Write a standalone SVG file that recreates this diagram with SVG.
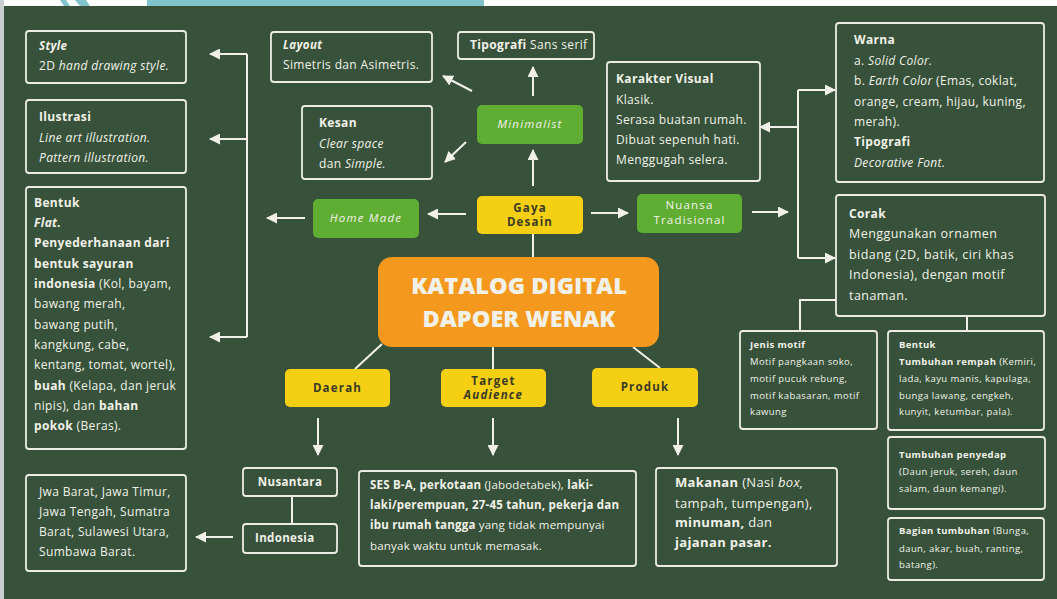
<svg xmlns="http://www.w3.org/2000/svg" width="1057" height="599" viewBox="0 0 1057 599">
<defs>
<style>
.t{fill:#f1f1e9;font-family:"Open Sans","Noto Sans",sans-serif;font-size:12px;letter-spacing:0.35px}
.b{font-weight:700}
.i{font-style:italic}
.box{fill:none;stroke:#ecece4;stroke-width:1.8}
.yel{fill:#f4cf14}
.grn{fill:#60ad33}
.yt{fill:#3b3a22;font-family:"Open Sans","Noto Sans",sans-serif;font-size:11.5px;font-weight:700;letter-spacing:1.2px}
.gt{fill:#f1f1e9;font-family:"Open Sans","Noto Sans",sans-serif;font-size:11.5px;letter-spacing:1.2px}
.ln{stroke:#f1f1e9;stroke-width:2;fill:none}
.ar{marker-end:url(#ah)}
.s9{font-size:9.5px;letter-spacing:0.4px}
.s11{font-size:11.5px}
.s115{font-size:11.5px;letter-spacing:0.2px}
.s125{font-size:12.5px;letter-spacing:0.45px}
.s13{font-size:13px}
.big{font-size:23.5px;letter-spacing:0px;font-weight:800}
</style>
<marker id="ah" markerUnits="userSpaceOnUse" markerWidth="11" markerHeight="11" refX="10" refY="5.5" orient="auto" viewBox="0 0 11 11">
<path d="M0,0 L11,5.5 L0,11 z" fill="#f1f1e9"/>
</marker>
</defs>
<rect x="0" y="0" width="1057" height="599" fill="#37513a"/>
<rect x="0" y="0" width="1057" height="6" fill="#ffffff"/>
<rect x="147" y="0" width="337" height="6" fill="#80c3cb"/>
<polygon points="60,0 66,0 70,6 64,6" fill="#80c3cb"/>
<polygon points="75,0 86,0 90,6 80,6" fill="#80c3cb"/>
<rect x="0" y="0" width="4" height="599" fill="#c9ced2"/>

<g id="connectors">
<path class="ln" d="M247,54 V337"/>
<path class="ln ar" d="M247,54 H210"/>
<path class="ln ar" d="M247,139 H210"/>
<path class="ln ar" d="M247,337 H210"/>
<path class="ln ar" d="M466,214 H428"/>
<path class="ln ar" d="M305,218 H267"/>
<path class="ln ar" d="M533,186 V150"/>
<path class="ln ar" d="M533,96 V67"/>
<path class="ln ar" d="M472,91 L443,76"/>
<path class="ln ar" d="M466,142 L445,162"/>
<path class="ln ar" d="M591,213 H628"/>
<path class="ln ar" d="M752,212 H788"/>
<path class="ln" d="M798,90 V258"/>
<path class="ln ar" d="M798,90 H835"/>
<path class="ln ar" d="M798,258 H835"/>
<path class="ln ar" d="M798,127 H760"/>
<path class="ln" d="M533,234 V257"/>
<path class="ln" d="M382,344 L355,369"/>
<path class="ln" d="M493,347 V369"/>
<path class="ln" d="M633,347 L660,368"/>
<path class="ln ar" d="M318,418 V455"/>
<path class="ln ar" d="M493,418 V455"/>
<path class="ln ar" d="M678,418 V455"/>
<path class="ln" d="M292,496 V524"/>
<path class="ln ar" d="M233,537 H196"/>
<path class="ln" d="M836,300 H800 V331"/>
<path class="ln" d="M967,316 V331"/>
</g>

<g id="style">
<rect class="box" x="26" y="31" width="160" height="52" rx="3"/>
<text class="t b i s11" x="39" y="50">Style</text>
<text class="t" x="39" y="70">2D <tspan class="i">hand drawing style.</tspan></text>
</g>
<g id="ilustrasi">
<rect class="box" x="26" y="100" width="160" height="73" rx="3"/>
<text class="t b" x="39" y="121">Ilustrasi</text>
<text class="t i" x="39" y="142">Line art illustration.</text>
<text class="t i" x="39" y="162">Pattern illustration.</text>
</g>
<g id="bentuk-left">
<rect class="box" x="26" y="187" width="160" height="262" rx="3"/>
<text class="t b" x="34" y="207">Bentuk</text>
<text class="t b i" x="34" y="227">Flat.</text>
<text class="t b" x="34" y="247">Penyederhanaan dari</text>
<text class="t b" x="34" y="268">bentuk sayuran</text>
<text class="t" x="34" y="288"><tspan class="b">indonesia</tspan> (Kol, bayam,</text>
<text class="t" x="34" y="308">bawang merah,</text>
<text class="t" x="34" y="329">bawang putih,</text>
<text class="t" x="34" y="349">kangkung, cabe,</text>
<text class="t" x="34" y="369">kentang, tomat, wortel),</text>
<text class="t" x="34" y="390"><tspan class="b">buah</tspan> (Kelapa, dan jeruk</text>
<text class="t" x="34" y="410">nipis), dan <tspan class="b">bahan</tspan></text>
<text class="t" x="34" y="430"><tspan class="b">pokok</tspan> (Beras).</text>
</g>
<g id="layout">
<rect class="box" x="271" y="32" width="161" height="50" rx="3"/>
<text class="t b i s11" x="283" y="49">Layout</text>
<text class="t" x="283" y="69">Simetris dan Asimetris.</text>
</g>
<g id="tipografi">
<rect class="box" x="458" y="32" width="136" height="27" rx="3"/>
<text class="t" x="470" y="49"><tspan class="b">Tipografi</tspan> Sans serif</text>
</g>
<g id="kesan">
<rect class="box" x="302" y="106" width="130" height="73" rx="3"/>
<text class="t b" x="319" y="127">Kesan</text>
<text class="t i" x="319" y="148">Clear space</text>
<text class="t" x="319" y="168">dan <tspan class="i">Simple.</tspan></text>
</g>
<g id="minimalist">
<rect class="grn" x="477" y="105" width="106" height="39" rx="5"/>
<text class="gt i" x="530" y="128" text-anchor="middle">Minimalist</text>
</g>
<g id="home-made">
<rect class="grn" x="313" y="199" width="106" height="39" rx="5"/>
<text class="gt i" x="366" y="222" text-anchor="middle">Home Made</text>
</g>
<g id="gaya-desain">
<rect class="yel" x="477" y="196" width="106" height="38" rx="5"/>
<text class="yt" x="530" y="212" text-anchor="middle">Gaya</text>
<text class="yt" x="530" y="226" text-anchor="middle">Desain</text>
</g>
<g id="nuansa">
<rect class="grn" x="637" y="194" width="105" height="39" rx="5"/>
<text class="gt" x="689.5" y="209" text-anchor="middle">Nuansa</text>
<text class="gt" x="689.5" y="224" text-anchor="middle">Tradisional</text>
</g>
<g id="karakter">
<rect class="box" x="607" y="62" width="153" height="119" rx="3"/>
<text class="t b" x="616" y="83">Karakter Visual</text>
<text class="t" x="616" y="104">Klasik.</text>
<text class="t" x="616" y="124">Serasa buatan rumah.</text>
<text class="t" x="616" y="144">Dibuat sepenuh hati.</text>
<text class="t" x="616" y="164">Menggugah selera.</text>
</g>
<g id="warna">
<rect class="box" x="836" y="23" width="208" height="159" rx="3"/>
<text class="t b" x="854" y="44">Warna</text>
<text class="t" x="854" y="65">a. <tspan class="i">Solid Color.</tspan></text>
<text class="t" x="854" y="85">b. <tspan class="i">Earth Color</tspan> (Emas, coklat,</text>
<text class="t" x="854" y="106">orange, cream, hijau, kuning,</text>
<text class="t" x="854" y="126">merah).</text>
<text class="t b" x="854" y="146">Tipografi</text>
<text class="t i" x="854" y="167">Decorative Font.</text>
</g>
<g id="corak">
<rect class="box" x="836" y="195" width="209" height="121" rx="3"/>
<text class="t b" x="849" y="218">Corak</text>
<text class="t s125" x="849" y="238">Menggunakan ornamen</text>
<text class="t s125" x="849" y="259">bidang (2D, batik, ciri khas</text>
<text class="t s125" x="849" y="279">Indonesia), dengan motif</text>
<text class="t s125" x="849" y="300">tanaman.</text>
</g>
<g id="jenis-motif">
<rect class="box" x="740" y="331" width="137" height="98" rx="3"/>
<text class="t b s9" x="750" y="348">Jenis motif</text>
<text class="t s9" x="750" y="365">Motif pangkaan soko,</text>
<text class="t s9" x="750" y="382">motif pucuk rebung,</text>
<text class="t s9" x="750" y="399">motif kabasaran, motif</text>
<text class="t s9" x="750" y="415">kawung</text>
</g>
<g id="bentuk-right">
<rect class="box" x="888" y="331" width="156" height="99" rx="3"/>
<text class="t b s9" x="899" y="348">Bentuk</text>
<text class="t s9" x="899" y="365"><tspan class="b">Tumbuhan rempah</tspan> (Kemiri,</text>
<text class="t s9" x="899" y="382">lada, kayu manis, kapulaga,</text>
<text class="t s9" x="899" y="399">bunga lawang, cengkeh,</text>
<text class="t s9" x="899" y="415">kunyit, ketumbar, pala).</text>
</g>
<g id="penyedap">
<rect class="box" x="888" y="437" width="157" height="72" rx="3"/>
<text class="t b s9" x="899" y="458">Tumbuhan penyedap</text>
<text class="t s9" x="899" y="475">(Daun jeruk, sereh, daun</text>
<text class="t s9" x="899" y="492">salam, daun kemangi).</text>
</g>
<g id="bagian">
<rect class="box" x="888" y="518" width="156" height="62" rx="3"/>
<text class="t s9" x="899" y="534"><tspan class="b">Bagian  tumbuhan</tspan> (Bunga,</text>
<text class="t s9" x="899" y="552">daun, akar, buah, ranting,</text>
<text class="t s9" x="899" y="568">batang).</text>
</g>
<g id="makanan">
<rect class="box" x="656" y="468" width="181" height="98" rx="3"/>
<text class="t s13" x="675" y="487"><tspan class="b">Makanan</tspan> (Nasi <tspan class="i">box,</tspan></text>
<text class="t s13" x="675" y="508">tampah, tumpengan),</text>
<text class="t s13" x="675" y="527"><tspan class="b">minuman,</tspan> dan</text>
<text class="t s13 b" x="675" y="547">jajanan pasar.</text>
</g>
<g id="ses">
<rect class="box" x="359" y="471" width="277" height="95" rx="3"/>
<text class="t s115" x="370" y="489"><tspan class="b">SES B-A, perkotaan</tspan> (Jabodetabek), <tspan class="b">laki-</tspan></text>
<text class="t b s115" x="370" y="509">laki/perempuan, 27-45 tahun, pekerja dan</text>
<text class="t s115" x="370" y="529"><tspan class="b">ibu rumah tangga</tspan> yang tidak mempunyai</text>
<text class="t s115" x="370" y="550">banyak waktu untuk memasak.</text>
</g>
<g id="nusantara">
<rect class="box" x="243" y="468" width="94" height="28" rx="3"/>
<text class="t b s11" x="290" y="486" text-anchor="middle">Nusantara</text>
</g>
<g id="indonesia">
<rect class="box" x="243" y="524" width="94" height="29" rx="3"/>
<text class="t b s11" x="255" y="542">Indonesia</text>
</g>
<g id="jawa">
<rect class="box" x="26" y="475" width="160" height="96" rx="3"/>
<text class="t" x="39" y="496">Jwa Barat, Jawa Timur,</text>
<text class="t" x="39" y="516">Jawa Tengah, Sumatra</text>
<text class="t" x="39" y="536">Barat, Sulawesi Utara,</text>
<text class="t" x="39" y="556">Sumbawa Barat.</text>
</g>
<g id="katalog">
<rect x="378" y="257" width="281" height="90" rx="14" fill="#f4991e"/>
<text class="t big" x="519" y="294" text-anchor="middle">KATALOG DIGITAL</text>
<text class="t big" x="519" y="327" text-anchor="middle">DAPOER WENAK</text>
</g>
<g id="daerah">
<rect class="yel" x="285" y="369" width="105" height="38" rx="5"/>
<text class="yt" x="337.5" y="392" text-anchor="middle">Daerah</text>
</g>
<g id="target">
<rect class="yel" x="441" y="369" width="105" height="38" rx="5"/>
<text class="yt" x="493.5" y="385" text-anchor="middle">Target</text>
<text class="yt i" x="493.5" y="399" text-anchor="middle">Audience</text>
</g>
<g id="produk">
<rect class="yel" x="592" y="368" width="106" height="39" rx="5"/>
<text class="yt" x="645" y="391" text-anchor="middle">Produk</text>
</g>
</svg>
